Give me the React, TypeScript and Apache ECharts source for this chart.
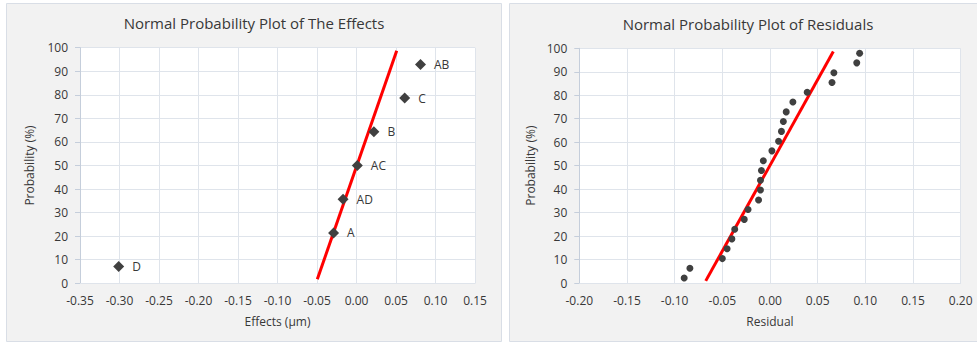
import React, { useEffect, useRef } from "react";
import * as echarts from "echarts";

const effectNames = ["D", "A", "AD", "AC", "B", "C", "AB"];
const effectValues = [-0.301, -0.029, -0.017, 0.001, 0.022, 0.061, 0.081];
const effectProb = [7.1, 21.4, 35.7, 50.0, 64.3, 78.6, 92.9];
const effectLineX = [-0.0496, 0.0509];
const effectLineY = [1.7, 98.7];

const residuals = [
  -0.09, -0.084, -0.05, -0.045, -0.04, -0.037, -0.027, -0.023, -0.012, -0.01, -0.01, -0.009,
  -0.007, 0.002, 0.009, 0.012, 0.014, 0.017, 0.024, 0.039, 0.065, 0.067, 0.091, 0.094,
];
const residualProb = [
  2.1, 6.3, 10.4, 14.6, 18.8, 22.9, 27.1, 31.3, 35.4, 39.6, 43.8, 47.9, 52.1, 56.3, 60.4, 64.6,
  68.8, 72.9, 77.1, 81.3, 85.4, 89.6, 93.8, 97.9,
];
const residualLineX = [-0.0674, 0.0664];
const residualLineY = [0.9, 98.6];

const titles = ["Normal Probability Plot of The Effects", "Normal Probability Plot of Residuals"];
const xNames = ["Effects (µm)", "Residual"];
const yName = "Probability (%)";

const FONT = "'Open Sans', 'Noto Sans', sans-serif";
const TEXT = "#383838";
const GRID = "#dfe4eb";
const AXIS = "#c5cedb";

const fmt = (v: number) => (Math.abs(v) < 1e-9 ? "0.00" : v.toFixed(2));

export default function App() {
  const ref = useRef<HTMLDivElement>(null);
  useEffect(() => {
    const chart = echarts.init(ref.current!, null, { renderer: "svg" });
    const xAxisBase = (idx: number, min: number, max: number, name: string) => ({
      type: "value",
      gridIndex: idx,
      min,
      max,
      interval: 0.05,
      name,
      nameLocation: "middle",
      nameGap: 32,
      nameTextStyle: { color: TEXT, fontSize: 12, fontFamily: FONT },
      axisLine: { show: true, onZero: false, lineStyle: { color: GRID } },
      axisTick: { show: false },
      axisLabel: { color: TEXT, fontSize: 12, fontFamily: FONT, margin: 11, formatter: fmt },
      splitLine: { show: true, lineStyle: { color: GRID, width: 1 } },
    });
    const yAxisBase = (idx: number, gap: number) => ({
      type: "value",
      gridIndex: idx,
      min: 0,
      max: 100,
      interval: 10,
      name: yName,
      nameLocation: "middle",
      nameGap: gap,
      nameTextStyle: { color: TEXT, fontSize: 12, fontFamily: FONT },
      axisLine: { show: true, onZero: false, lineStyle: { color: AXIS } },
      axisTick: { show: true, length: 5, inside: false, lineStyle: { color: AXIS } },
      axisLabel: { color: TEXT, fontSize: 12, fontFamily: FONT, margin: 12 },
      splitLine: { show: true, lineStyle: { color: GRID, width: 1 } },
    });
    chart.setOption({
      animation: false,
      backgroundColor: "#ffffff",
      textStyle: { fontFamily: FONT },
      graphic: [
        {
          type: "rect",
          z: -10,
          shape: { x: 6.5, y: 3.5, width: 495, height: 338 },
          style: { fill: "#f2f2f2", stroke: "#d9dee6", lineWidth: 1 },
        },
        {
          type: "rect",
          z: -10,
          shape: { x: 509.5, y: 3.5, width: 475, height: 338 },
          style: { fill: "#f2f2f2", stroke: "#d9dee6", lineWidth: 1 },
        },
        {
          type: "text",
          x: 254,
          y: 23,
          style: {
            text: titles[0],
            textAlign: "center",
            textVerticalAlign: "middle",
            align: "center",
            verticalAlign: "middle",
            fontSize: 15,
            fontFamily: FONT,
            fill: TEXT,
          },
        },
        {
          type: "text",
          x: 748,
          y: 24,
          style: {
            text: titles[1],
            textAlign: "center",
            textVerticalAlign: "middle",
            align: "center",
            verticalAlign: "middle",
            fontSize: 15,
            fontFamily: FONT,
            fill: TEXT,
          },
        },
      ],
      grid: [
        { left: 80, top: 47.7, width: 395, height: 235.6, show: true, backgroundColor: "#ffffff", borderWidth: 0 },
        { left: 579.3, top: 48.3, width: 381.4, height: 234.7, show: true, backgroundColor: "#ffffff", borderWidth: 0 },
      ],
      xAxis: [xAxisBase(0, -0.35, 0.15, xNames[0]), xAxisBase(1, -0.2, 0.2, xNames[1])],
      yAxis: [yAxisBase(0, 45), yAxisBase(1, 43)],
      series: [
        {
          type: "line",
          xAxisIndex: 0,
          yAxisIndex: 0,
          data: effectLineX.map((x, i) => [x, effectLineY[i]]),
          showSymbol: false,
          symbol: "none",
          lineStyle: { color: "#ff0000", width: 3 },
          z: 3,
        },
        {
          type: "scatter",
          xAxisIndex: 0,
          yAxisIndex: 0,
          symbol: "diamond",
          symbolSize: 11,
          itemStyle: { color: "#404040", opacity: 1 },
          data: effectValues.map((x, i) => ({ value: [x, effectProb[i]], name: effectNames[i] })),
          label: {
            show: true,
            position: "right",
            distance: 8,
            formatter: (p: any) => p.name,
            color: TEXT,
            fontSize: 12,
            fontFamily: FONT,
          },
          z: 4,
        },
        {
          type: "line",
          xAxisIndex: 1,
          yAxisIndex: 1,
          data: residualLineX.map((x, i) => [x, residualLineY[i]]),
          showSymbol: false,
          symbol: "none",
          lineStyle: { color: "#ff0000", width: 3 },
          z: 3,
        },
        {
          type: "scatter",
          xAxisIndex: 1,
          yAxisIndex: 1,
          symbol: "circle",
          symbolSize: 7,
          itemStyle: { color: "#404040", opacity: 1 },
          data: residuals.map((x, i) => [x, residualProb[i]]),
          z: 4,
        },
      ],
    });
    return () => chart.dispose();
  }, []);
  return (
    <div
      ref={ref}
      style={{ position: "fixed", left: 0, top: 0, width: 977, height: 343 }}
    />
  );
}
